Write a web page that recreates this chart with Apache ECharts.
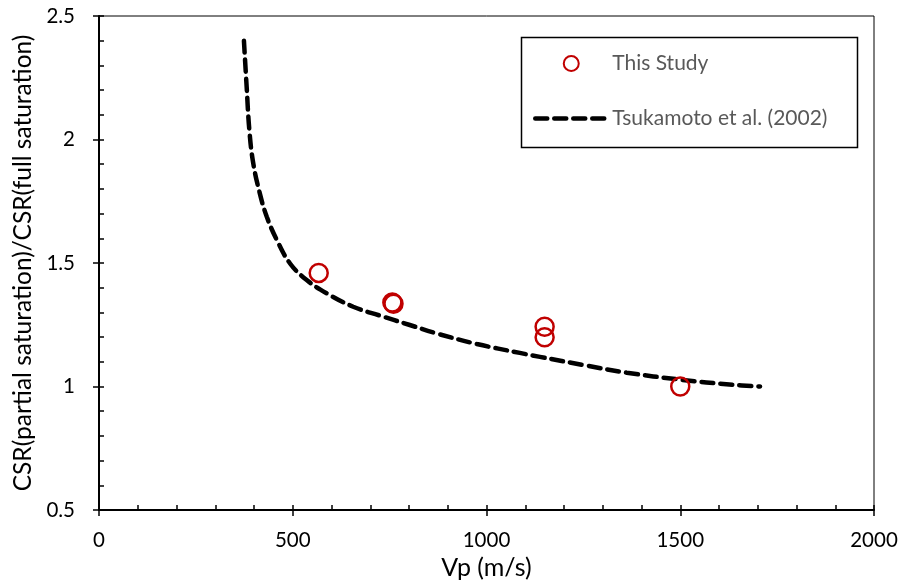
<!DOCTYPE html>
<html>
<head>
<meta charset="utf-8">
<script src="https://cdn.jsdelivr.net/npm/echarts@6/dist/echarts.min.js"></script>
<style>html,body{margin:0;padding:0;background:#fff}#c{width:902px;height:588px}</style>
</head>
<body>
<div id="c"></div>
<script>
// Data
var studyVp = [567, 757, 760, 1150, 1150, 1500];
var studyCSR = [1.46, 1.34, 1.335, 1.242, 1.199, 1.0];
var tsukVp = [374, 381, 388, 398, 415, 433, 459, 493, 536, 588, 656, 725, 800, 871, 975, 1086, 1138, 1250, 1362, 1499, 1636, 1706];
var tsukCSR = [2.40, 2.214, 2.038, 1.904, 1.782, 1.687, 1.593, 1.498, 1.431, 1.377, 1.323, 1.287, 1.250, 1.215, 1.172, 1.136, 1.120, 1.087, 1.056, 1.028, 1.007, 1.0];
var xTicks = [0, 500, 1000, 1500, 2000];
var yTicks = [0.5, 1, 1.5, 2, 2.5];
var seriesNames = ['This Study', 'Tsukamoto et al. (2002)'];
var xTitle = 'Vp (m/s)';
var yTitle = 'CSR(partial saturation)/CSR(full saturation)';

var FONT = 'Lato';
function zip(a, b) { return a.map(function (v, i) { return [v, b[i]]; }); }

var chart = echarts.init(document.getElementById('c'), null, { renderer: 'canvas' });
var xBase = { type: 'value', min: xTicks[0], max: xTicks[xTicks.length - 1], interval: xTicks[1] - xTicks[0] };
var yBase = { type: 'value', min: yTicks[0], max: yTicks[yTicks.length - 1], interval: yTicks[1] - yTicks[0] };
var dash = [12, 7];

chart.setOption({
  animation: false,
  backgroundColor: '#fff',
  grid: { left: 99, right: 28, top: 16, bottom: 78, show: true, borderColor: '#000', borderWidth: 1 },
  xAxis: [
    Object.assign({}, xBase, {
      position: 'bottom',
      name: xTitle, nameLocation: 'middle', nameGap: 45,
      nameTextStyle: { fontFamily: FONT, fontSize: 25, color: '#000' },
      axisLine: { show: true, lineStyle: { color: '#000', width: 2 } },
      axisTick: { show: true, inside: false, length: 6, lineStyle: { color: '#000', width: 1.5 } },
      axisLabel: { fontFamily: FONT, fontSize: 20.5, color: '#000', margin: 20, formatter: function (v) { return String(v); } },
      splitLine: { show: false }
    }),
    Object.assign({}, xBase, {
      position: 'bottom',
      axisLine: { show: false },
      axisTick: { show: true, inside: true, length: 5, lineStyle: { color: '#000', width: 1.5 } },
      minorTick: { show: true, splitNumber: 5, length: 5, lineStyle: { color: '#000', width: 1.5 } },
      axisLabel: { show: false },
      splitLine: { show: false }
    })
  ],
  yAxis: [
    Object.assign({}, yBase, {
      position: 'left',
      name: yTitle, nameLocation: 'middle', nameGap: 62, nameRotate: 90,
      nameTextStyle: { fontFamily: FONT, fontSize: 24.5, color: '#000' },
      axisLine: { show: true, lineStyle: { color: '#000', width: 2 } },
      axisTick: { show: true, inside: false, length: 6, lineStyle: { color: '#000', width: 1.5 } },
      axisLabel: { fontFamily: FONT, fontSize: 20.5, color: '#000', margin: 24, formatter: function (v) { return String(v); } },
      splitLine: { show: false }
    }),
    Object.assign({}, yBase, {
      position: 'left',
      axisLine: { show: false },
      axisTick: { show: true, inside: true, length: 5, lineStyle: { color: '#000', width: 1.5 } },
      minorTick: { show: true, splitNumber: 5, length: 5, lineStyle: { color: '#000', width: 1.5 } },
      axisLabel: { show: false },
      splitLine: { show: false }
    })
  ],
  graphic: [
    { type: 'rect', left: 519, top: 35, shape: { width: 336, height: 110 }, style: { fill: 'none', stroke: '#000', lineWidth: 1.5 }, z: 100 }
  ],
  legend: {
    show: true, orient: 'vertical', left: 533, top: 53, padding: 0,
    itemWidth: 72, itemHeight: 15, itemGap: 34,
    textStyle: { fontFamily: FONT, fontSize: 21, color: '#595959' },
    data: [
      { name: seriesNames[0], icon: 'emptyCircle', itemStyle: { color: '#C00000', borderColor: '#C00000', borderWidth: 2.5 } },
      { name: seriesNames[1], itemStyle: { opacity: 0 }, lineStyle: { color: '#000', width: 4.5, type: dash, cap: 'round' } }
    ]
  },
  series: [
    {
      name: seriesNames[1], type: 'line', xAxisIndex: 0, yAxisIndex: 0,
      data: zip(tsukVp, tsukCSR), smooth: 0.4, symbol: 'none',
      lineStyle: { color: '#000', width: 4.5, type: dash, cap: 'round' },
      itemStyle: { color: '#000' }, z: 2
    },
    {
      name: seriesNames[0], type: 'scatter', xAxisIndex: 0, yAxisIndex: 0,
      data: zip(studyVp, studyCSR), symbol: 'circle', symbolSize: 18,
      itemStyle: { color: 'rgba(255,255,255,0)', borderColor: '#C00000', borderWidth: 2.5, opacity: 1 }, z: 3
    }
  ]
});
</script>
</body>
</html>
